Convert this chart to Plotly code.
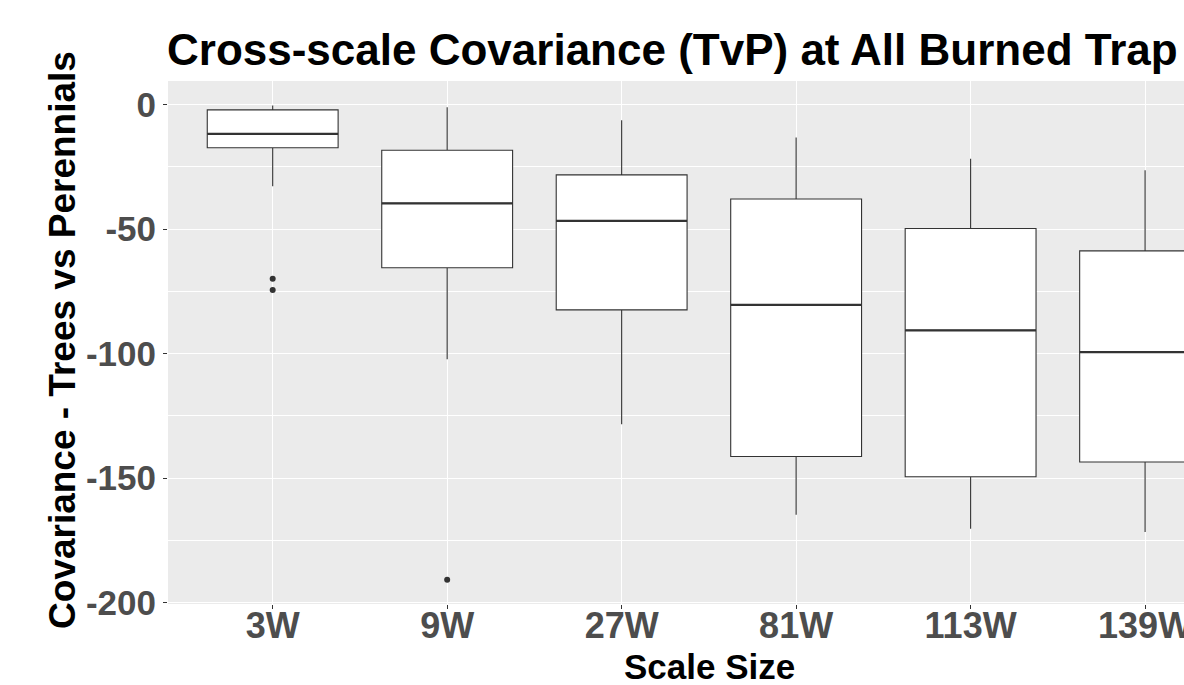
import plotly.graph_objects as go

categories = ["3W", "9W", "27W", "81W", "113W", "139W"]
upper_whisker = [-0.3, -1.0, -6.3, -13.2, -21.7, -26.3]
q3_values = [-2.1, -18.3, -28.2, -37.9, -49.7, -58.7]
median_values = [-11.7, -39.6, -46.7, -80.4, -90.6, -99.4]
q1_values = [-17.3, -65.5, -82.4, -141.3, -149.4, -143.5]
lower_whisker = [-32.8, -102.2, -128.3, -164.7, -170.3, -171.6]
outlier_categories = ["3W", "3W", "9W"]
outlier_values = [-69.9, -74.4, -190.8]
y_tick_values = [0, -50, -100, -150, -200]

FONT = "Liberation Sans, Arial, sans-serif"
LINE = "#333333"

fig = go.Figure()
fig.add_trace(go.Box(
    x=categories,
    q1=q1_values, median=median_values, q3=q3_values,
    lowerfence=lower_whisker, upperfence=upper_whisker,
    fillcolor="white", line=dict(color=LINE, width=1.1),
    boxpoints=False, whiskerwidth=0, showlegend=False,
))
fig.add_trace(go.Scatter(
    x=outlier_categories, y=outlier_values, mode="markers",
    marker=dict(color=LINE, size=6), showlegend=False,
))

# thicker median lines (ggplot fatten)
half = 0.75 / 2
for i, m in enumerate(median_values):
    fig.add_shape(type="line", xref="x", yref="y",
                  x0=i - half, x1=i + half, y0=m, y1=m,
                  line=dict(color=LINE, width=2.3))

fig.update_layout(
    width=1184, height=685,
    margin=dict(l=168, r=0, t=81, b=81, autoexpand=False),
    paper_bgcolor="white", plot_bgcolor="#EBEBEB",
    boxgap=0.25, boxgroupgap=0,
    title=dict(text="Cross-scale Covariance (TvP) at All Burned Trap",
               x=167 / 1184, xanchor="left", xref="container",
               y=1 - 50 / 685, yanchor="middle", yref="container",
               font=dict(family=FONT, size=44, color="black", weight="bold")),
    xaxis=dict(type="category", categoryorder="array", categoryarray=categories,
               range=[-0.6, 5.223], showgrid=True, gridcolor="white", gridwidth=1.1,
               ticks="outside", ticklen=4, tickcolor=LINE, tickwidth=1.1,
               ticklabelstandoff=-14,
               tickfont=dict(family=FONT, size=36, color="#4D4D4D", weight="bold"),
               zeroline=False, showline=False, fixedrange=True, automargin=False),
    yaxis=dict(range=[-200.5, 9.5], tickvals=y_tick_values,
               ticktext=[str(v) for v in y_tick_values],
               showgrid=True, gridcolor="white", gridwidth=1.1,
               minor=dict(dtick=25, tick0=0, showgrid=True, gridcolor="white", gridwidth=0.55),
               ticks="outside", ticklen=4, tickcolor=LINE, tickwidth=1.1,
               tickfont=dict(family=FONT, size=35, color="#4D4D4D", weight="bold"),
               zeroline=False, showline=False, fixedrange=True, automargin=False),
    annotations=[
        dict(text="Scale Size", xref="paper", yref="paper",
             x=(709 - 168) / 1016, y=(604 - 666) / 523,
             xanchor="center", yanchor="middle", showarrow=False,
             font=dict(family=FONT, size=35, color="black", weight="bold")),
        dict(text="Covariance - Trees vs Perennials", xref="paper", yref="paper",
             x=(62 - 168) / 1016, y=(604 - 340) / 523, textangle=-90,
             xanchor="center", yanchor="middle", showarrow=False,
             font=dict(family=FONT, size=37, color="black", weight="bold")),
    ],
)

fig.write_html("out.html", config={"displayModeBar": False},
               post_script="document.body.style.margin='0';")
